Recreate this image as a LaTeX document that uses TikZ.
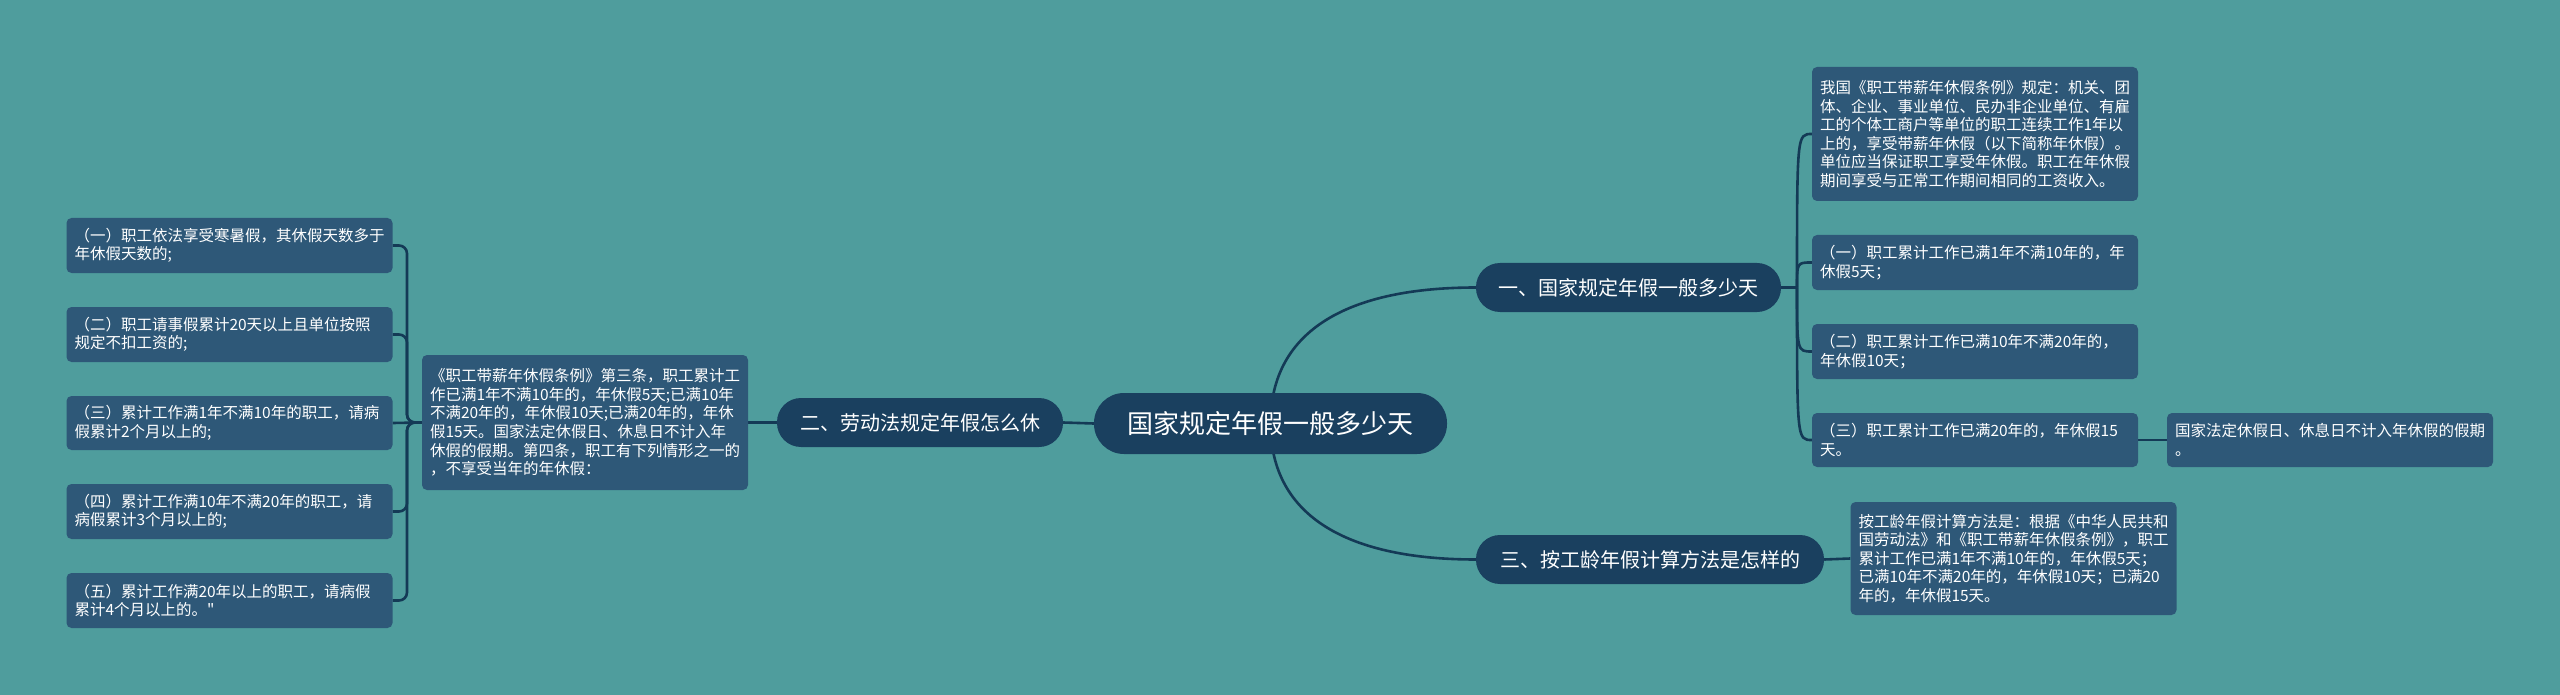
\documentclass[tikz,border=0pt]{standalone}
\usepackage{fontspec}
\newfontfamily\cjk{Noto Sans CJK SC}
\usetikzlibrary{calc}
\pgfdeclarelayer{bg}
\pgfdeclarelayer{background}
\pgfsetlayers{bg,background,main}
\definecolor{bgc}{HTML}{4F9D9D}
\definecolor{leafc}{HTML}{2E5878}
\definecolor{mainc}{HTML}{1A405F}
\definecolor{linec}{HTML}{143A56}
\tikzset{
  leaf/.style={rectangle, rounded corners=5pt, fill=leafc, text=white,
    font=\cjk\fontsize{15.5pt}{18.6pt}\selectfont, align=left,
    text width=310pt, inner xsep=8pt, inner ysep=0pt},
  topic/.style={rectangle, rounded corners=24pt, fill=mainc, text=white,
    font=\cjk\fontsize{20pt}{24pt}\selectfont, minimum height=49pt, inner sep=0pt},
  root/.style={rectangle, rounded corners=30pt, fill=mainc, text=white,
    font=\cjk\fontsize{26pt}{30pt}\selectfont, minimum height=61pt, minimum width=353pt, inner sep=0pt},
  conn/.style={draw=linec, line width=2.6pt},
}
\begin{document}
\begin{tikzpicture}[x=1pt,y=-1pt]
\begin{pgfonlayer}{bg}
\fill[bgc] (0,0) rectangle (2560,695);
\end{pgfonlayer}
\useasboundingbox (0,0) rectangle (2560,695);

% root and topics
\node[root] (c) at (1270.5,423.5) {国家规定年假一般多少天};
\node[topic, minimum width=305pt] (n1) at (1628.5,287.5) {一、国家规定年假一般多少天};
\node[topic, minimum width=286pt] (n2) at (920,422.5) {二、劳动法规定年假怎么休};
\node[topic, minimum width=348pt] (n3) at (1650,559.5) {三、按工龄年假计算方法是怎样的};

% right leaves of topic 1
\node[leaf, minimum height=134pt] (r1) at (1975,134) {我国《职工带薪年休假条例》规定：机关、团\\体、企业、事业单位、民办非企业单位、有雇\\工的个体工商户等单位的职工连续工作1年以\\上的，享受带薪年休假（以下简称年休假）。\\单位应当保证职工享受年休假。职工在年休假\\期间享受与正常工作期间相同的工资收入。};
\node[leaf, minimum height=55pt] (r2) at (1975,262.5) {（一）职工累计工作已满1年不满10年的，年\\休假5天；};
\node[leaf, minimum height=55pt] (r3) at (1975,351.5) {（二）职工累计工作已满10年不满20年的，\\年休假10天；};
\node[leaf, minimum height=54pt] (r4) at (1975,440) {（三）职工累计工作已满20年的，年休假15\\天。};
\node[leaf, minimum height=54pt] (r4c) at (2330,440) {国家法定休假日、休息日不计入年休假的假期\\。};

% leaf of topic 3
\node[leaf, minimum height=113pt] (r5) at (2013.5,558.5) {按工龄年假计算方法是：根据《中华人民共和\\国劳动法》和《职工带薪年休假条例》，职工\\累计工作已满1年不满10年的，年休假5天；\\已满10年不满20年的，年休假10天；已满20\\年的，年休假15天。};

% left side
\node[leaf, minimum height=135pt] (lt) at (585,422.5) {《职工带薪年休假条例》第三条，职工累计工\\作已满1年不满10年的，年休假5天;已满10年\\不满20年的，年休假10天;已满20年的，年休\\假15天。国家法定休假日、休息日不计入年\\休假的假期。第四条，职工有下列情形之一的\\，不享受当年的年休假：};
\node[leaf, minimum height=55pt] (l1) at (229.5,245.5) {（一）职工依法享受寒暑假，其休假天数多于\\年休假天数的;};
\node[leaf, minimum height=55pt] (l2) at (229.5,334.5) {（二）职工请事假累计20天以上且单位按照\\规定不扣工资的;};
\node[leaf, minimum height=54pt] (l3) at (229.5,423) {（三）累计工作满1年不满10年的职工，请病\\假累计2个月以上的;};
\node[leaf, minimum height=55pt] (l4) at (229.5,511.5) {（四）累计工作满10年不满20年的职工，请\\病假累计3个月以上的;};
\node[leaf, minimum height=55pt] (l5) at (229.5,600.5) {（五）累计工作满20年以上的职工，请病假\\累计4个月以上的。"};

\coordinate (rj) at (1797,287.5);
\coordinate (lj) at (407,422.5);

\begin{pgfonlayer}{background}
% root to topics
\draw[conn] (c.center) .. controls +(0,-95) and +(-125,0) .. (n1.west);
\draw[conn] (c.center) .. controls +(0,95) and +(-125,0) .. (n3.west);
\draw[conn] (c.west) -- (n2.east);
% topic 1 bracket
\draw[conn] (n1.east) -- (rj);
\foreach \r in {r1,r2,r3,r4}{
  \draw[conn] (rj) .. controls (rj |- \r.west) .. (\r.west);
}
\draw[conn] (r4.east) -- (r4c.west);
% topic 3
\draw[conn] (n3.east) -- (r5.west);
% topic 2
\draw[conn] (n2.west) -- (lt.east);
\draw[conn] (lt.west) -- (l3.east);
\foreach \l in {l1,l2,l4,l5}{
  \draw[conn, rounded corners=8pt] (lt.west) -- (lj) |- (\l.east);
}
\end{pgfonlayer}
\end{tikzpicture}
\end{document}
